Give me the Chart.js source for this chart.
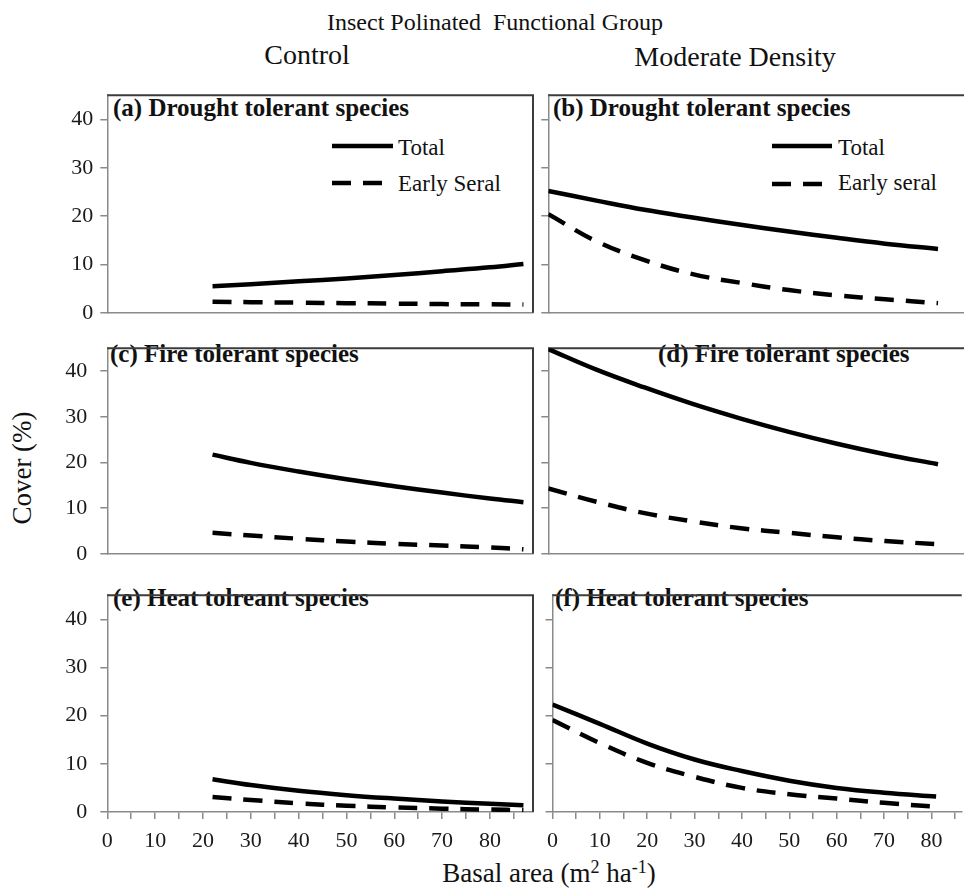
<!DOCTYPE html>
<html><head><meta charset="utf-8">
<script src="https://cdn.jsdelivr.net/npm/chart.js@4"></script>
<style>
html,body{margin:0;padding:0;background:#fff;}
body{width:964px;height:890px;position:relative;overflow:hidden;font-family:'Liberation Serif','Times New Roman',serif;color:#111;}
canvas{position:absolute;}
.t{position:absolute;white-space:pre;line-height:1;}
.c{transform:translateX(-50%);}
.b{font-weight:bold;font-size:25px;}
.lg{font-size:23px;}
sup{font-size:18px;line-height:0;vertical-align:9px;}
</style></head><body>
<div class="t c" style="left:495px;top:10px;font-size:24px;">Insect Polinated  Functional Group</div>
<div class="t c" style="left:307px;top:41px;font-size:28px;">Control</div>
<div class="t c" style="left:735px;top:43px;font-size:28px;">Moderate Density</div>
<div class="t" style="left:22px;top:468px;font-size:27px;transform:translate(-50%,-50%) rotate(-90deg);">Cover (%)</div>
<div class="t c" style="left:549px;top:860px;font-size:27px;">Basal area (m<sup>2</sup> ha<sup>-1</sup>)</div>

<div class="t b" style="left:113px;top:95px;">(a) Drought tolerant species</div>
<div class="t b" style="left:553px;top:95px;">(b) Drought tolerant species</div>
<div class="t b" style="left:110px;top:341px;">(c) Fire tolerant species</div>
<div class="t b" style="left:658px;top:341px;">(d) Fire tolerant species</div>
<div class="t b" style="left:113px;top:585px;">(e) Heat tolreant species</div>
<div class="t b" style="left:555px;top:585px;">(f) Heat tolerant species</div>

<div class="t lg" style="left:398px;top:136px;">Total</div>
<div class="t lg" style="left:398px;top:172px;">Early Seral</div>
<div class="t lg" style="left:838px;top:136px;">Total</div>
<div class="t lg" style="left:838px;top:171px;">Early seral</div>

<canvas id="p0"></canvas><canvas id="p1"></canvas>
<canvas id="p2"></canvas><canvas id="p3"></canvas>
<canvas id="p4"></canvas><canvas id="p5"></canvas>
<script>
// ---- data (basal area in m2/ha, cover in %) ----
const xControl  = [22, 30, 40, 50, 60, 70, 80, 87];
const xModerate = [0, 10, 20, 30, 40, 50, 60, 70, 81];

const droughtControlTotal  = [5.5, 5.9, 6.5, 7.1, 7.8, 8.6, 9.4, 10.1];
const droughtControlEarly  = [2.3, 2.2, 2.1, 2.0, 1.9, 1.8, 1.75, 1.7];
const droughtModerateTotal = [25.2, 23.2, 21.3, 19.7, 18.2, 16.8, 15.5, 14.3, 13.2];
const droughtModerateEarly = [20.4, 14.8, 10.9, 8.0, 6.2, 4.7, 3.6, 2.8, 2.0];

const fireControlTotal  = [21.7, 19.9, 18.0, 16.3, 14.8, 13.4, 12.1, 11.3];
const fireControlEarly  = [4.6, 4.0, 3.3, 2.7, 2.2, 1.8, 1.4, 1.0];
const fireModerateTotal = [44.8, 40.3, 36.4, 32.8, 29.6, 26.7, 24.1, 21.8, 19.6];
const fireModerateEarly = [14.3, 11.4, 8.9, 7.1, 5.6, 4.6, 3.6, 2.8, 2.1];

const heatControlTotal  = [6.8, 5.6, 4.4, 3.5, 2.8, 2.2, 1.7, 1.4];
const heatControlEarly  = [3.1, 2.5, 1.8, 1.3, 0.95, 0.7, 0.5, 0.4];
const heatModerateTotal = [22.3, 18.3, 14.2, 10.9, 8.5, 6.5, 5.0, 4.0, 3.2];
const heatModerateEarly = [19.1, 14.3, 10.2, 7.3, 5.0, 3.7, 2.8, 1.9, 1.1];

const yTicks = [0, 10, 20, 30, 40];
const xTickLabels = [0, 10, 20, 30, 40, 50, 60, 70, 80];

// ---- layout ----
const FONT = "'Liberation Serif', 'Times New Roman', serif";
const ROW_TOP = [85, 332, 579], ROW_BOT = [319, 566, 812];
const ROW_XH = [14, 14, 60];
const ROW_YPAD = [7, 13, 13];
const COLS = [
  {left: 0,   width: 540, axisW: 107.3, padR: 7, xmax: 89},
  {left: 538, width: 426, axisW: 10.3,  padR: 0, xmax: 86.4}
];
const DASH = [19, 12];
const LW = 4.5;

const panels = [
  {row:0, col:0, xs:xControl,  total:droughtControlTotal,  early:droughtControlEarly,
   legend:{solid:[332,393,146], dashed:[332,382,183]}},
  {row:0, col:1, xs:xModerate, total:droughtModerateTotal, early:droughtModerateEarly,
   legend:{solid:[772,832,146], dashed:[772,832,184]}},
  {row:1, col:0, xs:xControl,  total:fireControlTotal,  early:fireControlEarly},
  {row:1, col:1, xs:xModerate, total:fireModerateTotal, early:fireModerateEarly},
  {row:2, col:0, xs:xControl,  total:heatControlTotal,  early:heatControlEarly},
  {row:2, col:1, xs:xModerate, total:heatModerateTotal, early:heatModerateEarly}
];

const framePlugin = {
  id: 'frame',
  beforeDatasetsDraw(chart, args, opts) {
    const a = chart.chartArea, ctx = chart.ctx;
    ctx.save();
    ctx.strokeStyle = '#3c3c3c';
    ctx.lineWidth = 2;
    ctx.beginPath();
    ctx.moveTo(a.left, a.top);
    ctx.lineTo(a.right, a.top);
    if (opts.right) ctx.lineTo(a.right, a.bottom);
    ctx.stroke();
    ctx.restore();
  }
};

const legendPlugin = {
  id: 'legendSamples',
  afterDatasetsDraw(chart, args, opts) {
    if (!opts.spec) return;
    const ctx = chart.ctx, ox = opts.ox, oy = opts.oy;
    ctx.save();
    ctx.strokeStyle = '#000';
    ctx.lineWidth = LW;
    const s = opts.spec.solid, d = opts.spec.dashed;
    ctx.beginPath(); ctx.moveTo(s[0]-ox, s[2]-oy); ctx.lineTo(s[1]-ox, s[2]-oy); ctx.stroke();
    ctx.setLineDash(DASH);
    ctx.beginPath(); ctx.moveTo(d[0]-ox, d[2]-oy); ctx.lineTo(d[1]-ox, d[2]-oy); ctx.stroke();
    ctx.restore();
  }
};

panels.forEach((p, i) => {
  const col = COLS[p.col];
  const top = ROW_TOP[p.row] - 10;
  const h = (ROW_BOT[p.row] - ROW_TOP[p.row]) + 10 + ROW_XH[p.row];
  const cv = document.getElementById('p' + i);
  cv.width = col.width; cv.height = h;
  cv.style.left = col.left + 'px'; cv.style.top = top + 'px';
  const isBottom = p.row === 2;
  new Chart(cv, {
    type: 'line',
    data: {
      datasets: [
        {label: 'Total', data: p.xs.map((x, k) => ({x, y: p.total[k]})),
         borderColor: '#000', borderWidth: LW},
        {label: 'Early seral', data: p.xs.map((x, k) => ({x, y: p.early[k]})),
         borderColor: '#000', borderWidth: LW, borderDash: DASH}
      ]
    },
    options: {
      responsive: false, animation: false, devicePixelRatio: 1,
      layout: {padding: {top: 10, right: col.padR, bottom: 0, left: 0}},
      elements: {point: {radius: 0}, line: {tension: 0.4, borderCapStyle: 'butt'}},
      plugins: {
        legend: {display: false}, tooltip: {enabled: false},
        frame: {right: p.col === 0},
        legendSamples: {spec: p.legend || null, ox: col.left, oy: top}
      },
      scales: {
        x: {
          type: 'linear', min: 0, max: col.xmax,
          ticks: {display: isBottom, stepSize: 5, includeBounds: false, autoSkip: false, maxRotation: 0,
                  padding: 9, color: '#1a1a1a', font: {family: FONT, size: 22},
                  callback: v => xTickLabels.includes(v) ? String(v) : ''},
          grid: {display: true, drawOnChartArea: false, drawTicks: isBottom, tickLength: 7, color: '#8a8a8a', lineWidth: 1.5},
          border: {display: true, color: '#8a8a8a', width: 1.5},
          afterFit: s => { s.height = ROW_XH[p.row]; }
        },
        y: {
          min: 0, max: 45,
          afterBuildTicks: s => { s.ticks = yTicks.map(v => ({value: v})); },
          ticks: {padding: ROW_YPAD[p.row], color: '#1a1a1a', font: {family: FONT, size: 22},
                  callback: v => p.col === 0 ? String(v) : ''},
          grid: {display: true, drawOnChartArea: false, drawTicks: true, tickLength: 7, color: '#8a8a8a', lineWidth: 1.5},
          border: {display: true, color: '#8a8a8a', width: 1.5},
          afterFit: s => { s.width = col.axisW; }
        }
      }
    },
    plugins: [framePlugin, legendPlugin]
  });
});
</script>
</body></html>
